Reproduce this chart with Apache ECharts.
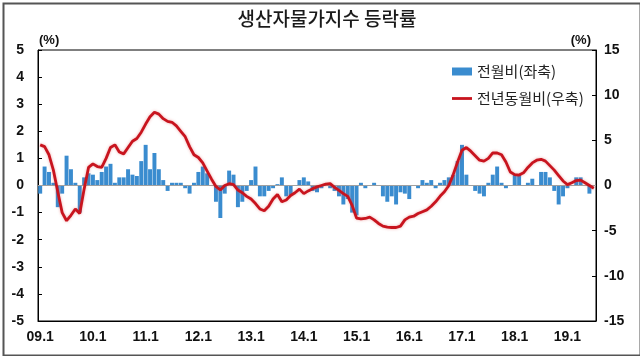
<!DOCTYPE html>
<html><head><meta charset="utf-8">
<script src="https://cdn.jsdelivr.net/npm/echarts@6.0.0/dist/echarts.min.js"></script>
<style>html,body{margin:0;padding:0;background:#fff}#c{width:640px;height:356px}</style>
</head><body><div id="c"></div>
<script>
// ---- data ----
const startYear = 2009;
const monthCount = 127; // 2009.1 .. 2019.7
const categories = [];
for (let k = 0; k < monthCount; k++) {
  const y = startYear + Math.floor(k / 12);
  categories.push(String(y % 100).padStart(2, '0') + '.' + (k % 12 + 1));
}
// 전월비 (%) - left axis
const momValues = [
  -0.3, 0.7, 0.5, 0.1, -0.8, -0.3, 1.1, 0.6, 0.1, -1.0, 0.3, 0.45,
  0.4, 0.2, 0.5, 0.7, 0.8, 0.1, 0.3, 0.3, 0.6, 0.4, 0.35, 0.9,
  1.5, 0.6, 1.2, 0.6, 0.2, -0.2, 0.1, 0.1, 0.1, -0.1, -0.3, 0.1,
  0.5, 0.7, 0.45, 0.0, -0.6, -1.2, -0.3, 0.55, 0.4, -0.8, -0.6, -0.2,
  0.2, 0.7, -0.4, -0.4, -0.2, -0.1, 0.05, 0.3, -0.4, -0.35, 0.0, 0.2,
  0.3, 0.15, -0.2, -0.25, -0.1, 0.0, -0.1, -0.2, -0.4, -0.7, -0.5, -1.0,
  -1.1, 0.1, -0.1, 0.0, 0.1, 0.0, -0.4, -0.6, -0.4, -0.7, -0.25, -0.3,
  -0.5, 0.0, -0.1, 0.2, 0.1, 0.2, -0.1, 0.1, 0.2, 0.3, 0.4, 0.9,
  1.5, 0.4, 0.0, -0.2, -0.3, -0.4, 0.1, 0.4, 0.7, 0.1, -0.1, 0.0,
  0.4, 0.4, 0.0, 0.1, 0.25, 0.0, 0.5, 0.5, 0.3, -0.2, -0.7, -0.4,
  -0.1, 0.0, 0.3, 0.3, 0.0, -0.3, 0.0
];
// 전년동월비 (%) - right axis
const yoyValues = [
  4.5, 4.3, 3.4, 1.7, -0.7, -3.0, -3.9, -3.3, -2.6, -3.1, -0.4, 2.0,
  2.4, 2.1, 2.0, 3.0, 4.2, 4.5, 3.7, 3.5, 4.2, 4.9, 5.2, 5.9,
  6.8, 7.6, 8.1, 7.9, 7.4, 7.1, 7.0, 6.6, 6.0, 5.4, 4.3, 3.4,
  3.1, 2.5, 1.6, 0.7, -0.1, -0.5, 0.0, 0.2, 0.1, -0.5, -0.8, -1.2,
  -1.5, -2.0, -2.6, -2.8, -2.3, -1.5, -1.0, -1.8, -1.6, -1.1, -0.8, -0.4,
  -0.9, -0.6, -0.35, -0.15, 0.0, 0.15, 0.2, -0.2, -0.55, -0.9, -1.2, -2.2,
  -3.6, -3.7, -3.65, -3.5, -3.8, -4.2, -4.5, -4.6, -4.65, -4.65, -4.5, -3.8,
  -3.5, -3.4, -3.1, -2.9, -2.7, -2.3, -1.8, -1.2, -0.7, 0.0, 1.2, 2.6,
  3.9, 4.2, 3.8, 3.3, 2.8, 2.7, 3.0, 3.6, 3.6, 3.4, 2.6, 1.5,
  1.2, 1.15, 1.4, 2.0, 2.5, 2.8, 2.9, 2.7, 2.2, 1.7, 1.1, 0.5,
  0.1, 0.3, 0.55, 0.6, 0.3, 0.0, -0.3
];
const seriesNames = ['전월비(좌축)', '전년동월비(우축)'];
const titleText = '생산자물가지수 등락률';
const unitText = '(%)';
const leftAxisRange = [-5, 5, 1];
const rightAxisRange = [-15, 15, 5];

// ---- chart ----
const numFont = { fontFamily: 'Liberation Sans, Arial, sans-serif', fontWeight: 'bold', fontSize: 14, color: '#111' };
const chart = echarts.init(document.getElementById('c'), null, { renderer: 'canvas' });
chart.setOption({
  animation: false,
  backgroundColor: '#fff',
  grid: { left: 38, right: 44, top: 50, bottom: 35, show: true, borderColor: '#000', borderWidth: 1, containLabel: false, outerBoundsMode: 'none' },
  graphic: [
    { type: 'rect', left: 1, top: 1, shape: { width: 637, height: 352 }, style: { fill: 'none', stroke: '#555', lineWidth: 2 }, silent: true },
    { type: 'text', x: 327, y: 19, style: { text: titleText, fontSize: 19, fontWeight: 500, fontFamily: 'Noto Sans CJK KR', fill: '#1a1a1a', textAlign: 'center', textVerticalAlign: 'middle' } },
    { type: 'text', x: 39, y: 40, style: { text: unitText, fontSize: 13, fontWeight: 'bold', fontFamily: 'Liberation Sans, Arial', fill: '#111', textAlign: 'left', textVerticalAlign: 'middle' } },
    { type: 'text', x: 591, y: 40, style: { text: unitText, fontSize: 13, fontWeight: 'bold', fontFamily: 'Liberation Sans, Arial', fill: '#111', textAlign: 'right', textVerticalAlign: 'middle' } }
  ],
  legend: {
    orient: 'vertical', left: 452, top: 64, padding: 0,
    itemWidth: 20, itemHeight: 8, itemGap: 12,
    textStyle: { fontSize: 15, fontFamily: 'Noto Sans CJK KR', color: '#222' },
    data: [
      { name: seriesNames[0], icon: 'rect' },
      { name: seriesNames[1], icon: 'path://M0 0H20V2.8H0Z' }
    ]
  },
  xAxis: {
    type: 'category', data: categories, boundaryGap: true,
    axisLine: { show: true, onZero: false, lineStyle: { color: '#000', width: 1 } },
    axisTick: { show: false },
    splitLine: { show: false },
    axisLabel: Object.assign({ interval: 11, margin: 9, hideOverlap: false }, numFont)
  },
  yAxis: [
    {
      type: 'value', min: leftAxisRange[0], max: leftAxisRange[1], interval: leftAxisRange[2], position: 'left',
      axisLine: { show: true, lineStyle: { color: '#000', width: 1 } },
      axisTick: { show: true, inside: true, length: 4, lineStyle: { color: '#000' } },
      splitLine: { show: false },
      axisLabel: Object.assign({ margin: 14 }, numFont)
    },
    {
      type: 'value', min: rightAxisRange[0], max: rightAxisRange[1], interval: rightAxisRange[2], position: 'right',
      axisLine: { show: true, lineStyle: { color: '#000', width: 1 } },
      axisTick: { show: true, inside: true, length: 4, lineStyle: { color: '#000' } },
      splitLine: { show: false },
      axisLabel: Object.assign({ margin: 8 }, numFont)
    }
  ],
  series: [
    {
      name: seriesNames[0], type: 'bar', yAxisIndex: 0, data: momValues,
      barCategoryGap: '10%',
      itemStyle: { color: '#3a8ccf' },
      markLine: { silent: true, symbol: ['none', 'none'], label: { show: false },
        lineStyle: { color: '#a0a0a0', width: 1, type: 'solid' }, data: [{ yAxis: 0 }] }
    },
    {
      name: seriesNames[1], type: 'line', yAxisIndex: 1, data: yoyValues,
      symbol: 'none', smooth: false, z: 5,
      itemStyle: { color: '#c8141e' },
      lineStyle: { color: '#c8141e', width: 2.8, shadowColor: 'rgba(220,70,70,0.45)', shadowBlur: 3 }
    }
  ]
});
</script>
</body></html>
